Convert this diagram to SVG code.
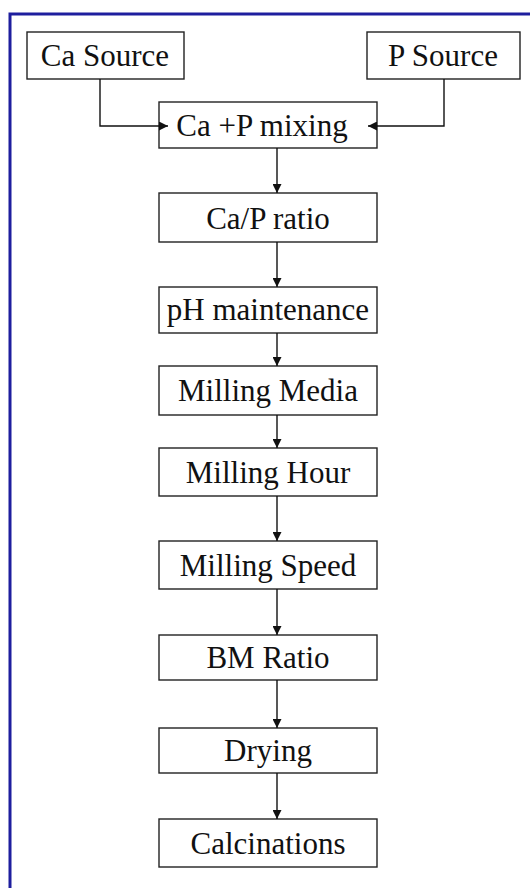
<svg xmlns="http://www.w3.org/2000/svg" width="530" height="888" viewBox="0 0 530 888">
<defs>
<style>
.box{fill:#fff;stroke:#222;stroke-width:1.4}
.lbl{font-size:31px;fill:#111;text-anchor:middle}
.conn{fill:none;stroke:#111;stroke-width:1.4}
</style>
<marker id="ah" viewBox="0 0 10 10" refX="10" refY="5" markerWidth="10" markerHeight="9" markerUnits="userSpaceOnUse" orient="auto">
<path d="M0,0 L10,5 L0,10 z" fill="#111"/>
</marker>
</defs>
<rect x="0" y="0" width="530" height="888" fill="#fff"/>
<path d="M10,900 V14 H540" fill="none" stroke="#1e1e9e" stroke-width="3"/>
<g font-family="Liberation Serif, Tinos, Times New Roman, DejaVu Serif, serif">
<g id="ca-source"><rect class="box" x="27" y="32" width="157" height="47"/><text class="lbl" x="105" y="66">Ca Source</text></g>
<g id="p-source"><rect class="box" x="367" y="32" width="153" height="47"/><text class="lbl" x="443" y="66">P Source</text></g>
<g id="mixing"><rect class="box" x="159" y="102" width="218" height="46"/><text class="lbl" x="262" y="136">Ca +P mixing</text></g>
<g id="ratio"><rect class="box" x="159" y="193" width="218" height="49"/><text class="lbl" x="268" y="229">Ca/P ratio</text></g>
<g id="ph"><rect class="box" x="159" y="287" width="218" height="46"/><text class="lbl" x="268" y="320">pH maintenance</text></g>
<g id="media"><rect class="box" x="159" y="366" width="218" height="49"/><text class="lbl" x="268" y="401">Milling Media</text></g>
<g id="hour"><rect class="box" x="159" y="448" width="218" height="48"/><text class="lbl" x="268" y="483">Milling Hour</text></g>
<g id="speed"><rect class="box" x="159" y="541" width="218" height="48"/><text class="lbl" x="268" y="576">Milling Speed</text></g>
<g id="bm"><rect class="box" x="159" y="635" width="218" height="45"/><text class="lbl" x="268" y="668">BM Ratio</text></g>
<g id="drying"><rect class="box" x="159" y="728" width="218" height="45"/><text class="lbl" x="268" y="761">Drying</text></g>
<g id="calc"><rect class="box" x="159" y="819" width="218" height="48"/><text class="lbl" x="268" y="854">Calcinations</text></g>
</g>
<g id="connectors">
<path class="conn" d="M100,79 V126 H168" marker-end="url(#ah)"/>
<path class="conn" d="M444,79 V126 H368" marker-end="url(#ah)"/>
<path class="conn" d="M277,148 V193" marker-end="url(#ah)"/>
<path class="conn" d="M277,242 V287" marker-end="url(#ah)"/>
<path class="conn" d="M277,333 V366" marker-end="url(#ah)"/>
<path class="conn" d="M277,415 V448" marker-end="url(#ah)"/>
<path class="conn" d="M277,496 V541" marker-end="url(#ah)"/>
<path class="conn" d="M277,589 V635" marker-end="url(#ah)"/>
<path class="conn" d="M277,680 V728" marker-end="url(#ah)"/>
<path class="conn" d="M277,773 V819" marker-end="url(#ah)"/>
</g>
</svg>
